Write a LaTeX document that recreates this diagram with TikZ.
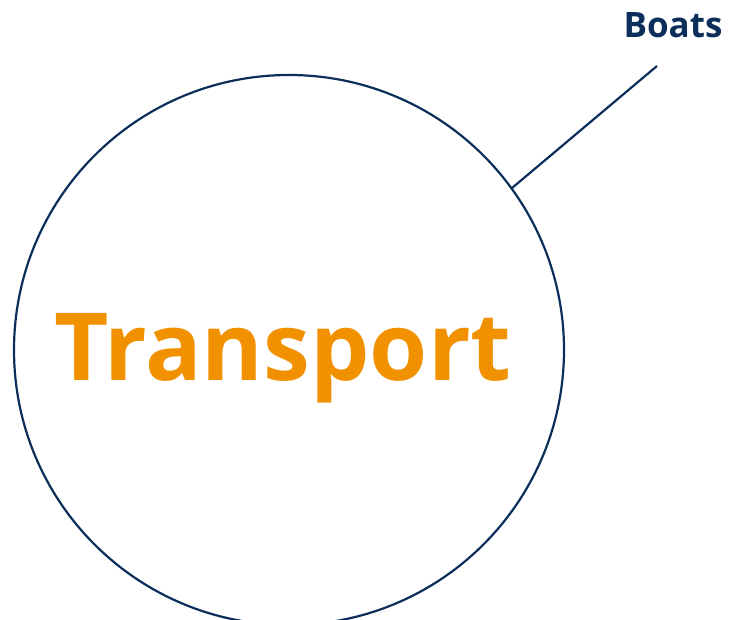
\documentclass[tikz,border=0pt]{standalone}
\usepackage{fontspec}
\setmainfont{Open Sans}
\usetikzlibrary{positioning,calc}
\definecolor{Navy}{HTML}{0B2F5A}
\definecolor{Orange}{HTML}{F29100}
\tikzset{
  ring/.style={draw=Navy,line width=2.2pt,circle,minimum size=550pt,inner sep=0pt},
  title/.style={text=Orange,font=\fontsize{94}{96}\selectfont\bfseries,inner sep=0pt},
  tag/.style={text=Navy,font=\fontsize{35}{36}\selectfont\bfseries,inner sep=0pt},
  leader/.style={draw=Navy,line width=2.2pt}
}
\begin{document}
\begin{tikzpicture}[x=1pt,y=-1pt]
      \useasboundingbox (0,0) rectangle (729,620);
      \node[ring] (transport) at (289,350) {};
      \node[title,anchor=base] (word) at (283,381) {Transport};
      \node[tag,anchor=base] (boats) at (673,38) {Boats};
      \coordinate (tip) at (657,66);
      \draw[leader] (transport.36) -- (tip);
    \end{tikzpicture}
\end{document}
